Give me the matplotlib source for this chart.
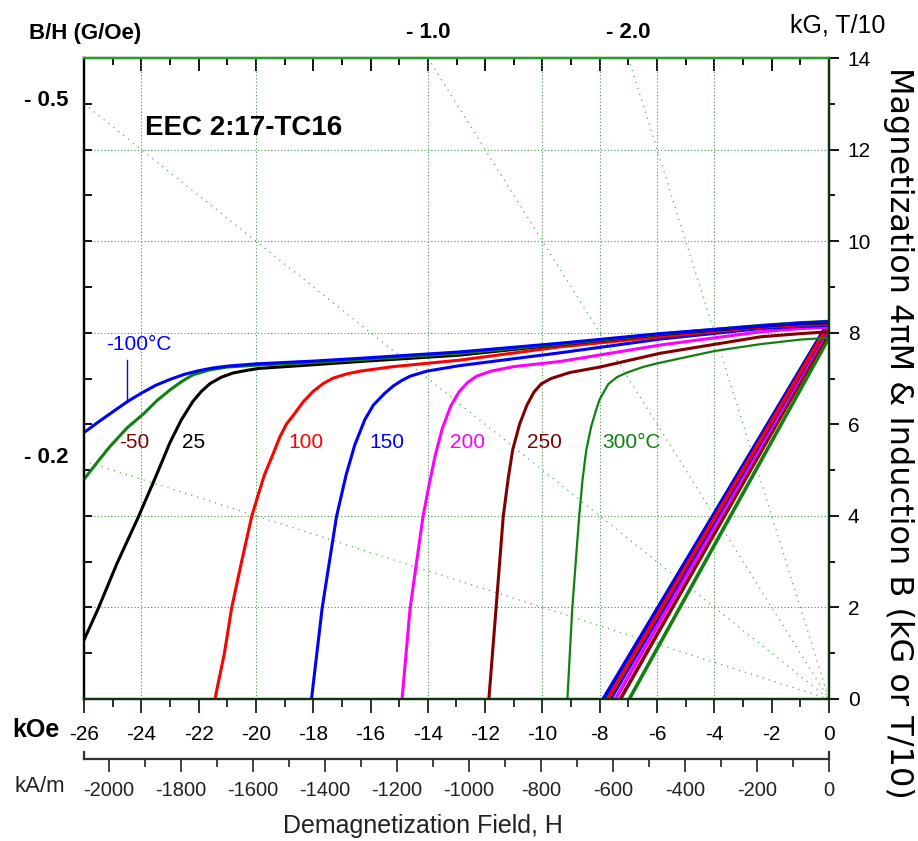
import numpy as np
import matplotlib
matplotlib.use("Agg")
import matplotlib.pyplot as plt
from matplotlib.ticker import MultipleLocator, FixedLocator

plt.rcParams["font.family"] = ["Liberation Sans", "DejaVu Sans"]
plt.rcParams["axes.unicode_minus"] = False

# intrinsic curves 4piM (kG) vs H (kOe)
h_m100 = [-26.0, -25.5, -25.0, -24.5, -24.0, -23.5, -23.0, -22.5, -22.0, -21.5, -21.0,
          -20.0, -18.0, -16.4, -12.9, -9.4, -5.9, -2.4, -1.0, 0.0]
j_m100 = [5.82, 6.05, 6.27, 6.49, 6.68, 6.85, 6.98, 7.09, 7.17, 7.23, 7.27,
          7.32, 7.38, 7.44, 7.58, 7.77, 7.98, 8.15, 8.21, 8.24]
h_m50 = [-26.0, -25.5, -25.1, -24.5, -23.9, -23.45, -23.0, -22.6, -22.2, -21.6, -21.0,
         -20.0, -18.0, -16.4, -12.9, -9.4, -5.9, -2.4, -1.0, 0.0]
j_m50 = [4.80, 5.20, 5.51, 5.92, 6.24, 6.52, 6.75, 6.93, 7.08, 7.19, 7.25,
         7.29, 7.35, 7.41, 7.55, 7.75, 7.97, 8.16, 8.22, 8.25]
h_25 = [-26.0, -25.5, -24.85, -24.1, -23.5, -23.0, -22.6, -22.2, -21.9, -21.6, -21.2,
        -20.8, -20.3, -19.9, -18.0, -16.4, -12.9, -9.4, -5.9, -2.4, -1.0, 0.0]
j_25 = [1.29, 1.98, 2.96, 3.98, 4.85, 5.60, 6.10, 6.50, 6.72, 6.89, 7.03,
        7.12, 7.18, 7.22, 7.30, 7.37, 7.51, 7.74, 7.96, 8.14, 8.20, 8.22]
h_100 = [-21.43, -21.1, -20.85, -20.5, -20.15, -19.95, -19.7, -19.39, -19.16, -18.93, -18.69,
         -18.35, -18.0, -17.65, -17.3, -16.83, -16.37, -15.2, -12.9, -9.4, -5.9, -2.4, -1.0, 0.0]
j_100 = [0.0, 1.0, 1.98, 3.0, 3.98, 4.4, 4.9, 5.37, 5.73, 6.01, 6.20,
         6.49, 6.72, 6.89, 7.01, 7.10, 7.16, 7.26, 7.40, 7.69, 7.91, 8.12, 8.17, 8.19]
h_150 = [-18.06, -17.69, -17.19, -16.85, -16.55, -16.2, -15.9, -15.5, -15.2, -14.9, -14.62,
         -14.04, -12.9, -9.4, -5.9, -2.4, -1.0, 0.0]
j_150 = [0.0, 1.98, 3.98, 4.90, 5.55, 6.10, 6.42, 6.68, 6.84, 6.96, 7.05,
         7.16, 7.28, 7.56, 7.86, 8.09, 8.14, 8.16]
h_200 = [-14.9, -14.62, -14.17, -13.95, -13.75, -13.5, -13.2, -12.9, -12.6, -12.3, -11.8,
         -11.0, -9.4, -5.9, -2.4, -1.0, 0.0]
j_200 = [0.0, 1.98, 3.98, 4.70, 5.30, 5.90, 6.40, 6.72, 6.92, 7.05, 7.16,
         7.26, 7.37, 7.73, 8.02, 8.09, 8.12]
h_250 = [-11.87, -11.62, -11.37, -11.2, -11.04, -10.8, -10.54, -10.3, -10.05, -9.7, -9.05,
         -8.0, -5.9, -2.4, -1.0, 0.0]
j_250 = [0.0, 1.98, 3.98, 4.80, 5.44, 6.00, 6.42, 6.70, 6.88, 7.00, 7.13,
         7.25, 7.55, 7.91, 7.98, 8.02]
h_300 = [-9.13, -8.96, -8.72, -8.6, -8.47, -8.3, -8.13, -8.0, -7.7, -7.4, -7.05,
         -6.5, -6.0, -4.0, -2.4, -1.0, 0.0]
j_300 = [0.0, 1.98, 3.98, 4.80, 5.44, 5.95, 6.31, 6.55, 6.88, 7.03, 7.13,
         7.25, 7.33, 7.60, 7.75, 7.85, 7.89]

temps = ["-100", "-50", "25", "100", "150", "200", "250", "300"]
colors = ["#0000ff", "#108010", "#000000", "#ff0000", "#0000ff", "#ff00ff", "#800000", "#108010"]
h_curves = [h_m100, h_m50, h_25, h_100, h_150, h_200, h_250, h_300]
j_curves = [j_m100, j_m50, j_25, j_100, j_150, j_200, j_250, j_300]

# normal B lines: remanence at H=0 and the field where B reaches 0
br = [8.24, 8.25, 8.22, 8.19, 8.16, 8.12, 8.02, 7.89]
hb = [-7.88, -7.85, -7.82, -7.72, -7.62, -7.45, -7.28, -6.97]

# curve labels
lab_text = ["-50", "25", "100", "150", "200", "250", "300°C"]
lab_h = [-24.24, -22.18, -18.25, -15.44, -12.63, -9.94, -6.88]
lab_col = ["#800000", "#000000", "#ff0000", "#0000ff", "#ff00ff", "#800000", "#108010"]

# load lines B/H (G/Oe)
bh_left = [-0.5, -0.2]
bh_top = [-1.0, -2.0]

grid_h = [-24, -20, -14, -10, -8, -6, -4]
grid_b = [2, 4, 8, 10, 12]

KA_PER_KOE = 1000.0 / (4 * np.pi)

W, H = 918, 841
fig = plt.figure(figsize=(W / 100, H / 100), dpi=100)
ax = fig.add_axes([84 / W, 1 - 699 / H, 745 / W, 641 / H])
ax.set_xlim(-26, 0)
ax.set_ylim(0, 14)

gc = "#3c9a3c"
for g in grid_h:
    ax.axvline(g, color=gc, ls=(0, (1, 2)), lw=0.8, zorder=1)
for g in grid_b:
    ax.axhline(g, color=gc, ls=(0, (1, 2)), lw=0.8, zorder=1)
for s in bh_left + bh_top:
    ax.axline((0, 0), slope=s, color="#5aaa5a", ls=(0, (1, 4)), lw=0.9, zorder=1)

# B lines (blue on the outside, red visible inside the band)
order = [7, 6, 5, 2, 1, 4, 0, 3]
for i in order:
    ax.plot([hb[i], 0], [0, br[i]], color=colors[i], lw=2.6, zorder=3,
            solid_capstyle="butt")

for i in [7, 6, 5, 4, 3, 2, 1, 0]:
    lw = 1.6 if i == 7 else 2.2
    ax.plot(h_curves[i], j_curves[i], color=colors[i], lw=lw, zorder=4,
            solid_joinstyle="round")

ax.text(-24.10, 7.75, "-100°C", color="#0000ff", fontsize=15, ha="center", va="center")
ax.plot([-24.51, -24.51], [7.40, 6.49], color="#0000ff", lw=1.0, zorder=4)
for t, x, c in zip(lab_text, lab_h, lab_col):
    ax.text(x, 5.6, t, color=c, fontsize=15, ha="center", va="center")

ax.text(-23.87, 12.47, "EEC 2:17-TC16", fontsize=20, fontweight="bold",
        ha="left", va="center")

# B/H scale labels
for s in bh_left:
    ax.text(-26.55, -26 * s + 0.08, f"- {abs(s):.1f}", fontsize=16, fontweight="bold",
            ha="right", va="center", clip_on=False)
for s in bh_top:
    ax.text(14 / s, 14.55, f"- {abs(s):.1f}", fontsize=16, fontweight="bold",
            ha="center", va="center", clip_on=False)

# bottom / left ticks
xt = list(range(-26, 1, 2))
ax.xaxis.set_major_locator(FixedLocator(xt))
ax.set_xticklabels([str(v) for v in xt])
ax.xaxis.set_minor_locator(MultipleLocator(1))
ax.tick_params(axis="x", which="major", direction="out", length=10, width=1.3,
               labelsize=15, pad=9, color="#102810")
ax.tick_params(axis="x", which="minor", direction="out", length=6, width=1.3,
               color="#102810")
ax.yaxis.set_major_locator(FixedLocator(list(range(1, 14))))
ax.yaxis.set_minor_locator(FixedLocator([]))
ax.tick_params(axis="y", which="major", direction="in", length=6, width=1.3,
               labelleft=False, left=True, right=False)

# right axis
axr = ax.twinx()
axr.set_ylim(0, 14)
axr.yaxis.set_major_locator(MultipleLocator(2))
axr.yaxis.set_minor_locator(MultipleLocator(1))
axr.tick_params(axis="y", which="major", direction="out", length=7.5, width=1.3,
                labelsize=15, pad=6)
axr.tick_params(axis="y", which="minor", direction="out", length=4, width=1.3)

# top ticks
axt = ax.secondary_xaxis("top")
axt.xaxis.set_major_locator(MultipleLocator(2))
axt.xaxis.set_minor_locator(MultipleLocator(1))
axt.tick_params(which="major", direction="in", length=9, width=1.3, labeltop=False)
axt.tick_params(which="minor", direction="in", length=5, width=1.3)

for a in (ax, axr):
    a.spines["top"].set_color("#2a9a2a")
    a.spines["left"].set_color("black")
    a.spines["bottom"].set_color("#103010")
    a.spines["right"].set_color("#103010")
    for sp in a.spines.values():
        sp.set_linewidth(1.6)
axt.spines["top"].set_color("#2a9a2a")
axt.spines["top"].set_linewidth(1.6)

# kA/m scale
ax2 = fig.add_axes([84 / W, 1 - 759 / H, 745 / W, 7 / H])
ax2.patch.set_visible(False)
ax2.set_xlim(-26 * KA_PER_KOE, 0)
ax2.set_yticks([])
ax2.spines["top"].set_visible(False)
for k in ("bottom", "left", "right"):
    ax2.spines[k].set_color("#333333")
    ax2.spines[k].set_linewidth(1.6)
ka = list(range(-2000, 1, 200))
ax2.xaxis.set_major_locator(FixedLocator(ka))
ax2.set_xticklabels([str(v) for v in ka])
ax2.xaxis.set_minor_locator(MultipleLocator(100))
ax2.tick_params(axis="x", which="major", direction="out", length=9.5, width=1.3,
                labelsize=14.5, pad=6, color="#333333", labelcolor="#222222")
ax2.tick_params(axis="x", which="minor", direction="out", length=5.5, width=1.3,
                color="#333333")

fig.text(29 / W, 1 - 33 / H, "B/H (G/Oe)", fontsize=16, fontweight="bold", va="center")
fig.text(838 / W, 1 - 25 / H, "kG, T/10", fontsize=18, ha="center", va="center")
fig.text(898 / W, 1 - 433 / H, "Magnetization 4πM & Induction B (kG or T/10)",
         fontsize=23, rotation=-90, ha="center", va="center", family="DejaVu Sans")
fig.text(12 / W, 1 - 730 / H, "kOe", fontsize=18, fontweight="bold", va="center")
fig.text(15 / W, 1 - 787 / H, "kA/m", fontsize=16, va="center", color="#222222")
fig.text(423 / W, 1 - 826 / H, "Demagnetization Field, H", fontsize=18,
         ha="center", va="center", color="#222222")

fig.savefig("out.png", dpi=100)
